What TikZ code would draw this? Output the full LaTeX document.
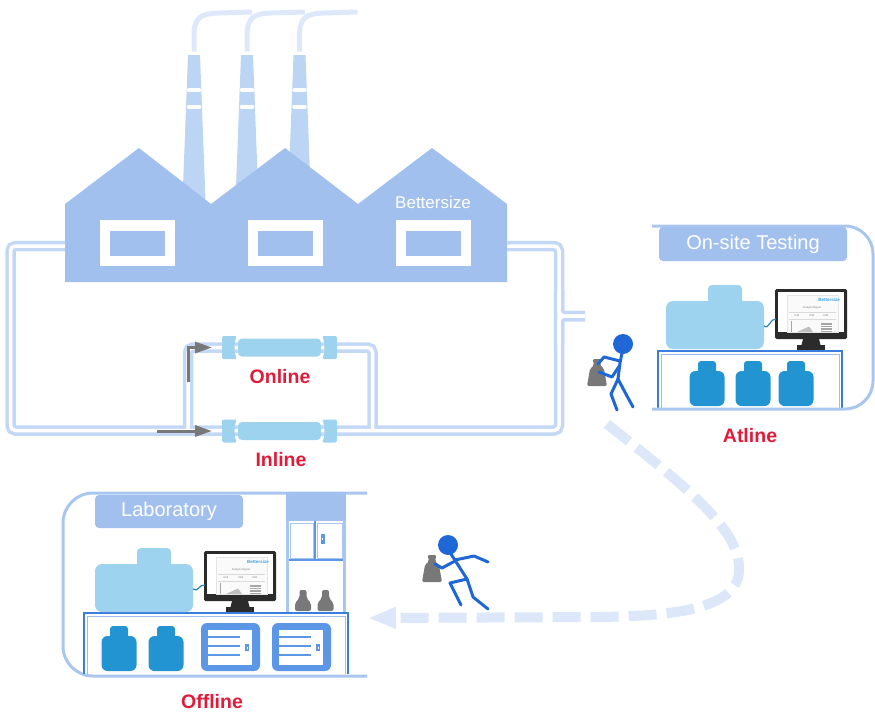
\documentclass[tikz,border=0pt]{standalone}
\usepackage{fontspec}
\setmainfont{Liberation Sans}
\usetikzlibrary{arrows.meta}

\definecolor{factoryblue}{HTML}{A1C0ED}
\definecolor{chimneyblue}{HTML}{BDD5F4}
\definecolor{smokeblue}{HTML}{DDE9FB}
\definecolor{pipeblue}{HTML}{C3D8F5}
\definecolor{frameblue}{HTML}{A9C6F1}
\definecolor{devblue}{HTML}{9DD3EE}
\definecolor{jarblue}{HTML}{2394D2}
\definecolor{benchblue}{HTML}{3B7DDD}
\definecolor{drawerblue}{HTML}{5C96E6}
\definecolor{manblue}{HTML}{1F66D6}
\definecolor{sackgrey}{HTML}{787878}
\definecolor{labelred}{HTML}{E01B3A}
\definecolor{pathblue}{HTML}{DCE8F9}
\definecolor{brandblue}{HTML}{3AA0E6}
\definecolor{screenblack}{HTML}{2B2B2B}

\tikzset{
  pipe/.style={line width=10.5pt, pipeblue, rounded corners=5pt},
  pipecore/.style={line width=3.5pt, white, rounded corners=5pt},
  room/.style={line width=3pt, frameblue},
  tag/.style={fill=factoryblue, rounded corners=4pt, text=white, inner sep=0pt,
    font=\fontsize{20}{24}\selectfont},
  place/.style={text=labelred, font=\fontsize{19.5}{23}\selectfont\bfseries, inner sep=0pt},
  limb/.style={manblue, line width=3pt, line cap=round, line join=round},
  flow/.style={sackgrey, line width=3pt, -{Triangle[length=17pt,width=11pt]}},
  cable/.style={brandblue!80!black, line width=1.2pt},
  tiny/.style={font=\fontsize{2.6}{3}\selectfont, text=black!55, inner sep=0pt},
  %probe in the process line
  sensor/.pic={
    \fill[devblue, rounded corners=2pt] (0,-11.5) -- (15,-11.5) .. controls (12,-5) and (12,5) .. (15,11.5) -- (0,11.5) -- cycle;
    \fill[devblue, rounded corners=4pt] (16,-9) rectangle (99,9);
    \fill[devblue, rounded corners=2pt] (115,-11.5) -- (100,-11.5) .. controls (103,-5) and (103,5) .. (100,11.5) -- (115,11.5) -- cycle;
  },
  %particle size analyzer
  analyzer/.pic={
    \fill[devblue, rounded corners=7pt] (0,0) rectangle (98,48);
    \fill[devblue, rounded corners=4pt] (42,-16) rectangle (76,4);
  },
  %computer screen with a report on it
  monitor/.pic={
    \fill[screenblack, rounded corners=1.5pt] (0,0) rectangle (72,50);
    \fill[white] (3,3) rectangle (69,43);
    \draw[black!10, fill=black!2, line width=0.4pt] (12,6) rectangle (63,43);
    \node[inner sep=0pt, text=brandblue, font=\fontsize{4.5}{5}\selectfont\bfseries] at (54,11) {Bettersize};
    \node[tiny] at (37,18.5) {Analysis Report};
    \draw[black!15, line width=0.4pt] (14,23) -- (61,23);
    \foreach \x/\d in {22/D10,37/D50,51/D90}
      \node[tiny] at (\x,27) {\d};
    \draw[black!15, line width=0.4pt] (14,30) -- (61,30);
    \draw[black!35, line width=0.5pt] (16,32) -- (16,43);
    \fill[black!25] (22,43) -- (34,37.5) -- (38,43) -- cycle;
    \fill[black!35] (46,34) rectangle (57,43);
    \foreach \y in {36,38.5,41}
      \draw[white, line width=0.5pt] (46,\y) -- (57,\y);
    \fill[screenblack] (28,50) -- (44,50) -- (45.5,56) -- (26.5,56) -- cycle;
    \fill[screenblack] (22,56) rectangle (50,61);
  },
  %sample container on the bench
  jar/.pic={
    \fill[jarblue, rounded corners=6pt] (-17.5,0) rectangle (17.5,-35);
    \fill[jarblue, rounded corners=3pt] (-9,-30) rectangle (9,-45);
  },
  %lab drawer unit
  drawer/.pic={
    \fill[drawerblue, rounded corners=6pt] (0,0) rectangle (59,48);
    \fill[white] (7,7) rectangle (51,42);
    \foreach \y in {14,23,32}
      \draw[drawerblue, line width=2pt] (7,\y) -- (39,\y);
    \fill[drawerblue] (44,21) rectangle (48,28);
    \fill[white] (45.5,23.5) rectangle (46.5,25.5);
  },
  %sample bag
  sack/.pic={
    \fill[sackgrey, rounded corners=1.5pt] (-10,0) -- (10,0) -- (7,-17) -- (3,-21) -- (4.5,-27) -- (-4.5,-27) -- (-3,-21) -- (-7,-17) -- cycle;
  },
  %reagent bottle
  flask/.pic={
    \fill[sackgrey, rounded corners=2pt] (-8,0) -- (8,0) -- (8,-8) -- (3.5,-13) -- (3.5,-21) -- (-3.5,-21) -- (-3.5,-13) -- (-8,-8) -- cycle;
  },
}

\begin{document}
\begin{tikzpicture}[x=1pt,y=-1pt]
\useasboundingbox (0,0) rectangle (875,712);

%pipe network: outline first, then the bore
\foreach \s in {pipe,pipecore}{
  \draw[\s] (120,246) -- (10.5,246) -- (10.5,430.5) -- (559,430.5) -- (559,246) -- (450,246);
  \draw[\s] (188,430.5) -- (188,347.5) -- (372.5,347.5) -- (372.5,430.5);
  \draw[\s] (559,290) -- (559,316) -- (585,316);
  \draw[\s] (559,345) -- (559,316) -- (585,316);
}

%flow direction
\draw[flow] (157,431) -- (212,431);
\draw[flow] (188,382) -- (188,347.5) -- (212,347.5);

%probes
\pic at (222,347.5) {sensor};
\pic at (222,431) {sensor};
\node[place, anchor=base] (online) at (280,383) {Online};
\node[place, anchor=base] (inline) at (281,466.5) {Inline};

%chimneys with smoke
\foreach \c in {194,247,299.5}{
  \fill[chimneyblue] (\c-6,55) -- (\c+6,55) -- (\c+11.5,200) -- (\c-11.5,200) -- cycle;
  \draw[white, line width=3.5pt, line cap=round] (\c-5.5,90) -- (\c+5.5,90) (\c-5.5,107) -- (\c+5.5,107);
  \draw[smokeblue, line width=5pt] (\c,51.5) -- (\c,36) .. controls (\c,18) and (\c+6,13.5) .. (\c+25,13) -- (\c+58,12);
}

%factory hall
\fill[factoryblue] (65,282) -- (65,204) -- (139,148) -- (211,204) -- (285,148) -- (358,204) -- (432,148) -- (507,204) -- (507,282) -- cycle;
\foreach \x in {100,248,396}{
  \fill[white] (\x,220) rectangle ++(75,46);
  \fill[factoryblue] (\x+10,231) rectangle ++(55,25);
}
\node[text=white, font=\fontsize{17}{20}\selectfont, inner sep=0pt, anchor=base] (brand) at (433,208.5) {Bettersize};

%on-site testing room
\draw[benchblue, line width=1.5pt] (658,409) -- (658,351) -- (842,351) -- (842,409);
\draw[benchblue!50, line width=1pt] (661,409) -- (661,354) -- (839,354) -- (839,409);
\draw[room, rounded corners=28pt] (652,226) -- (873,226) -- (873,409) -- (652,409);
\node[tag, minimum width=188pt, minimum height=34pt] (onsite) at (753,244) {On-site Testing};
\pic at (666,301) {analyzer};
\pic at (775,289) {monitor};
\draw[cable] (764,326) .. controls (769,330) and (770,318) .. (776,319);
\foreach \x in {707,753,796}
  \pic at (\x,406) {jar};
\node[place, anchor=base] (atline) at (750,442.5) {Atline};

%operator carrying a sample
\pic at (597,386) {sack};
\fill[manblue] (623,344) circle (10pt);
\draw[limb] (622,353) -- (620,363) -- (618,379);
\draw[limb] (618,379) -- (611,394) -- (617,410);
\draw[limb] (618,379) -- (627,396) -- (633,407);
\draw[limb] (620,361) -- (604,357) -- (598,364);
\draw[limb] (620,365) -- (612,377) -- (599,372);

%way back to the lab
\coordinate (pickup) at (607,424);
\coordinate (dropoff) at (368,618);
\draw[pathblue, line width=10pt, dash pattern=on 28pt off 10pt, -{Triangle[length=28pt,width=20pt]}]
  (pickup) .. controls (690,490) and (748,535) .. (738,578) .. controls (728,612) and (660,616) .. (600,617) -- (dropoff);

%running operator
\pic at (432,582) {sack};
\fill[manblue] (448,545) circle (10pt);
\draw[limb] (451,554) -- (467,579);
\draw[limb] (467,579) -- (450,583) -- (461,605);
\draw[limb] (467,579) -- (473,597) -- (488,609);
\draw[limb] (455,560) -- (474,556) -- (488,562);
\draw[limb] (455,561) -- (442,568) -- (435,564);

%laboratory
\draw[room, rounded corners=30pt] (367,493) -- (63,493) -- (63,676) -- (367,676);
\node[tag, minimum width=148pt, minimum height=33pt] (lab) at (169,511.5) {Laboratory};
\draw[benchblue, line width=1.5pt] (84,674) -- (84,613) -- (348,613) -- (348,674);
\draw[benchblue!50, line width=1pt] (87,674) -- (87,616) -- (345,616) -- (345,674);
\pic at (95,564) {analyzer};
\pic at (204,551) {monitor};
\draw[cable] (193,589) .. controls (198,593) and (199,584) .. (205,585);
\foreach \x in {119,166}
  \pic at (\x,671) {jar};
\pic at (201,623) {drawer};
\pic at (272,623) {drawer};

%tall cupboard
\fill[factoryblue] (286,492) rectangle (346,521);
\draw[frameblue, line width=3pt] (287.5,521) -- (287.5,612) (344.5,521) -- (344.5,612);
\draw[frameblue, line width=1pt] (290,523) rectangle (313,558) (317,523) rectangle (342,558);
\draw[drawerblue, line width=2.5pt] (289,560) -- (343,560) (315,521) -- (315,560);
\fill[drawerblue] (320.5,534) rectangle (325,544);
\fill[white] (322.3,537.5) rectangle (323.3,540);
\pic at (303,611) {flask};
\pic at (325.5,611) {flask};
\node[place, anchor=base] (offline) at (212,708) {Offline};
\end{tikzpicture}
\end{document}
